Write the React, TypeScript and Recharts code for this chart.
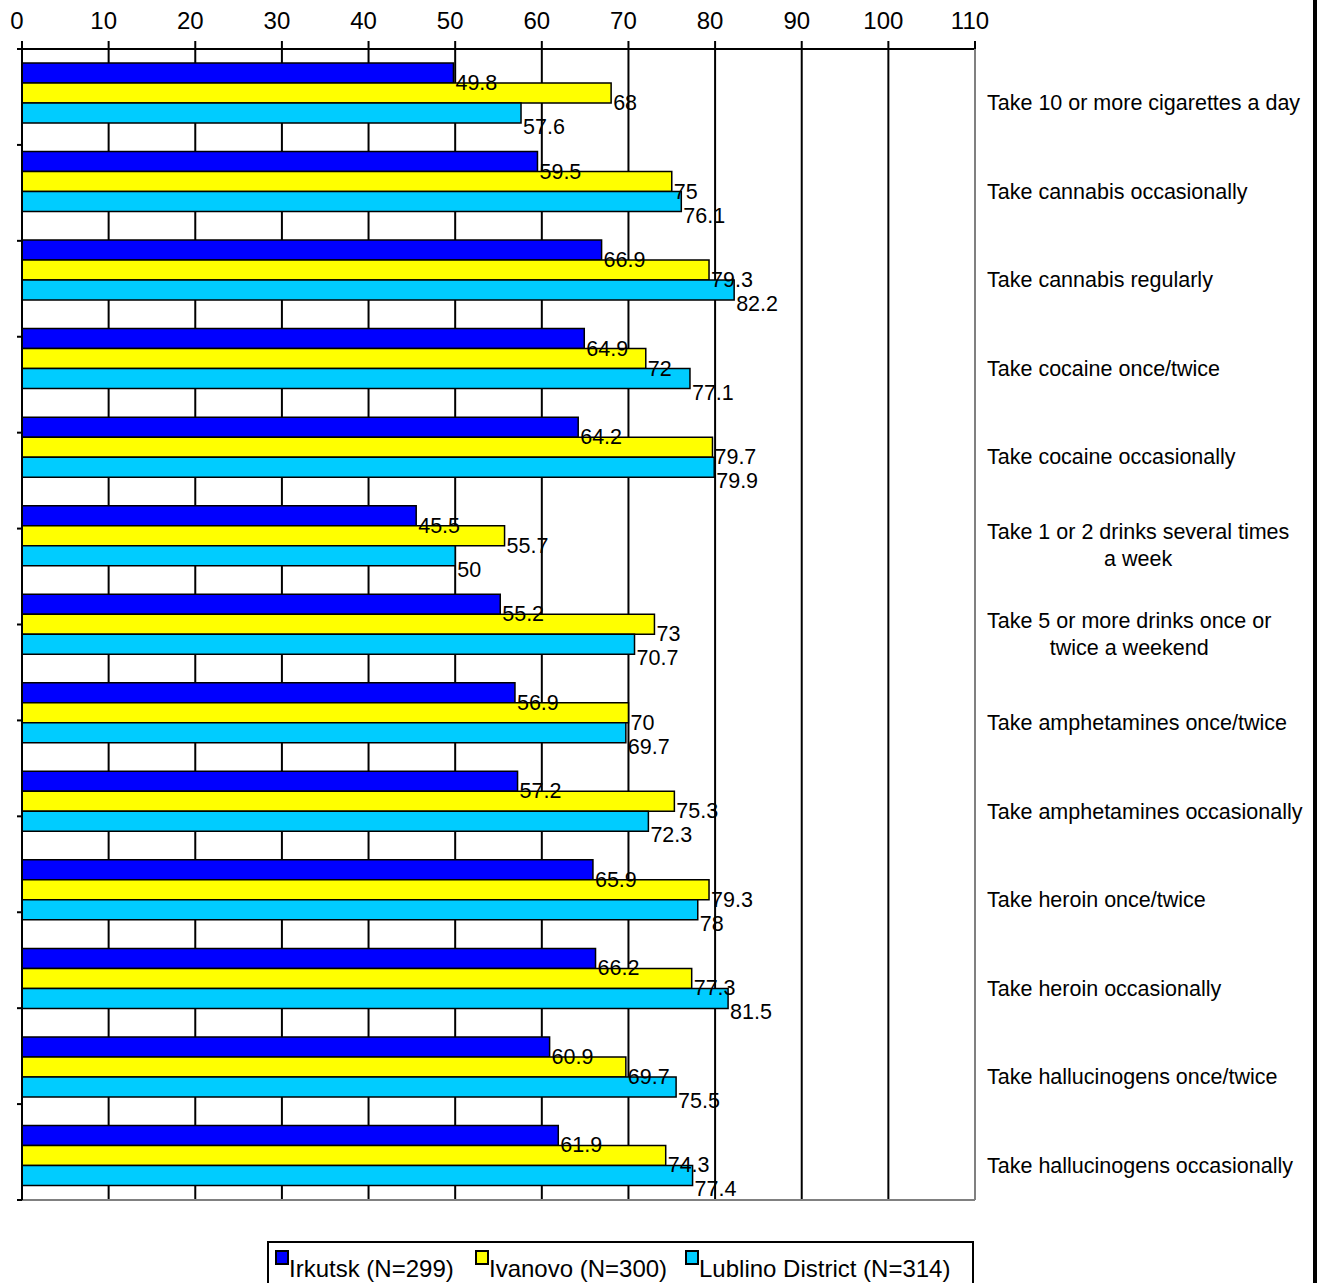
import React from 'react';
import { BarChart, Bar, XAxis, YAxis, CartesianGrid, LabelList, Legend } from 'recharts';

const categories = [
  'Take 10 or more cigarettes a day',
  'Take cannabis occasionally',
  'Take cannabis regularly',
  'Take cocaine once/twice',
  'Take cocaine occasionally',
  'Take 1 or 2 drinks several times\na week',
  'Take 5 or more drinks once or\ntwice a weekend',
  'Take amphetamines once/twice',
  'Take amphetamines occasionally',
  'Take heroin once/twice',
  'Take heroin occasionally',
  'Take hallucinogens once/twice',
  'Take hallucinogens occasionally',
];
const irkutsk = [49.8, 59.5, 66.9, 64.9, 64.2, 45.5, 55.2, 56.9, 57.2, 65.9, 66.2, 60.9, 61.9];
const ivanovo = [68, 75, 79.3, 72, 79.7, 55.7, 73, 70, 75.3, 79.3, 77.3, 69.7, 74.3];
const lublino = [57.6, 76.1, 82.2, 77.1, 79.9, 50, 70.7, 69.7, 72.3, 78, 81.5, 75.5, 77.4];
const xTicks = [0, 10, 20, 30, 40, 50, 60, 70, 80, 90, 100, 110];
const boundaryTicks = [0, 1, 2, 3, 4, 5, 6, 7, 8, 9, 10, 11, 12, 13];

const seriesNames = ['Irkutsk (N=299)', 'Ivanovo (N=300)', 'Lublino District (N=314)'];
const seriesColors = ['#0000FF', '#FFFF00', '#00CCFF'];

const data = categories.map((c, i) => ({
  name: c,
  irkutsk: irkutsk[i],
  ivanovo: ivanovo[i],
  lublino: lublino[i],
}));

const FONT = "'Liberation Sans', Arial, sans-serif";
const CAT_SIZE = 21.5;
const LABEL_SIZE = 21.5;

let canvasCtx: CanvasRenderingContext2D | null = null;
function measure(text: string, size: number): number {
  if (!canvasCtx) {
    const c = document.createElement('canvas');
    canvasCtx = c.getContext('2d');
  }
  if (!canvasCtx) return text.length * size * 0.5;
  canvasCtx.font = `${size}px 'Liberation Sans', Arial, sans-serif`;
  return canvasCtx.measureText(text).width;
}

const TopTick = (props: any) => {
  const { x, payload } = props;
  return (
    <text x={x - 5} y={29} textAnchor="middle" fontFamily={FONT} fontSize={24} fill="#000">
      {payload.value}
    </text>
  );
};

const CatTick = (props: any) => {
  const { x, y, payload } = props;
  const lines: string[] = String(payload.value).split('\n');
  const left = x + 12;
  if (lines.length === 1) {
    return (
      <text x={left} y={y + 10} dominantBaseline="central" fontFamily={FONT} fontSize={CAT_SIZE} fill="#000">
        {lines[0]}
      </text>
    );
  }
  const w1 = measure(lines[0], CAT_SIZE);
  const cx = left + w1 / 2;
  return (
    <g>
      {lines.map((l, i) => (
        <text key={i} x={cx} y={y - 4 + i * 27} textAnchor="middle" dominantBaseline="central" fontFamily={FONT} fontSize={CAT_SIZE} fill="#000">
          {l}
        </text>
      ))}
    </g>
  );
};

const EmptyTick = () => <g />;

const makeLabel = (dy: number) => (props: any) => {
  const { x, y, width, height, value } = props;
  return (
    <text x={x + width + 2} y={y + height + dy} dominantBaseline="central" fontFamily={FONT} fontSize={LABEL_SIZE} fill="#000">
      {value}
    </text>
  );
};

const LegendBox = () => {
  const starts = [276, 476, 686];
  return (
    <svg width={708} height={48} style={{ display: 'block' }}>
      <rect x={1} y={1} width={705} height={46} fill="#fff" stroke="#000" strokeWidth={2} />
      {seriesNames.map((n, i) => (
        <g key={n}>
          <rect x={starts[i] - 268 + 1} y={10} width={12} height={13} fill={seriesColors[i]} stroke="#000" strokeWidth={2} />
          <text x={starts[i] - 268 + 14} y={36} fontFamily={FONT} fontSize={24} fill="#000">
            {n}
          </text>
        </g>
      ))}
    </svg>
  );
};

const bottomEdge = (args: any) => {
  const off = args && args.offset ? args.offset : null;
  if (off) return [off.top + off.height];
  return [];
};

export default function App() {
  return (
    <div style={{ position: 'absolute', left: 0, top: 0, width: 1319, height: 1283, background: '#fff', overflow: 'hidden' }}>
      <BarChart
        width={1319}
        height={1283}
        data={data}
        layout="vertical"
        margin={{ top: 0, right: 0, bottom: 83, left: 0 }}
        barSize={20}
        barGap={0}
      >
        <CartesianGrid xAxisId="top" yAxisId="cat" horizontal={false} vertical={true} stroke="#000" strokeWidth={2} strokeOpacity={1} />
        <CartesianGrid
          xAxisId="top"
          yAxisId="cat"
          horizontal={true}
          vertical={false}
          horizontalCoordinatesGenerator={bottomEdge}
          stroke="#808080"
          strokeWidth={2}
          strokeOpacity={1}
        />
        <XAxis
          xAxisId="top"
          type="number"
          orientation="top"
          domain={[0, 110]}
          ticks={xTicks}
          height={49}
          tickSize={8}
          tick={<TopTick />}
          axisLine={{ stroke: '#000', strokeWidth: 2 }}
          tickLine={{ stroke: '#000', strokeWidth: 2 }}
          allowDataOverflow
        />
        <YAxis
          yAxisId="cat"
          type="category"
          dataKey="name"
          orientation="right"
          width={344}
          tickSize={0}
          tickMargin={0}
          tickLine={false}
          axisLine={{ stroke: '#808080', strokeWidth: 2 }}
          tick={<CatTick />}
          interval={0}
        />
        <YAxis
          yAxisId="b"
          type="number"
          orientation="left"
          domain={[0, 13]}
          ticks={boundaryTicks}
          width={22}
          tickSize={5}
          tick={<EmptyTick />}
          tickLine={{ stroke: '#000', strokeWidth: 2 }}
          axisLine={{ stroke: '#000', strokeWidth: 2 }}
          allowDataOverflow
          interval={0}
        />
        <Legend
          layout="vertical"
          align="center"
          verticalAlign="middle"
          content={<LegendBox />}
          wrapperStyle={{ left: 267, top: 1241, width: 708, height: 48 }}
        />
        <Bar xAxisId="top" yAxisId="cat" dataKey="irkutsk" name={seriesNames[0]} fill={seriesColors[0]} stroke="#000" strokeWidth={1.5} isAnimationActive={false}>
          <LabelList dataKey="irkutsk" content={makeLabel(0)} />
        </Bar>
        <Bar xAxisId="top" yAxisId="cat" dataKey="ivanovo" name={seriesNames[1]} fill={seriesColors[1]} stroke="#000" strokeWidth={1.5} isAnimationActive={false}>
          <LabelList dataKey="ivanovo" content={makeLabel(0)} />
        </Bar>
        <Bar xAxisId="top" yAxisId="cat" dataKey="lublino" name={seriesNames[2]} fill={seriesColors[2]} stroke="#000" strokeWidth={1.5} isAnimationActive={false}>
          <LabelList dataKey="lublino" content={makeLabel(4)} />
        </Bar>
      </BarChart>
      <div style={{ position: 'absolute', left: 1313, top: 0, width: 4, height: 1283, background: '#000' }} />
    </div>
  );
}
